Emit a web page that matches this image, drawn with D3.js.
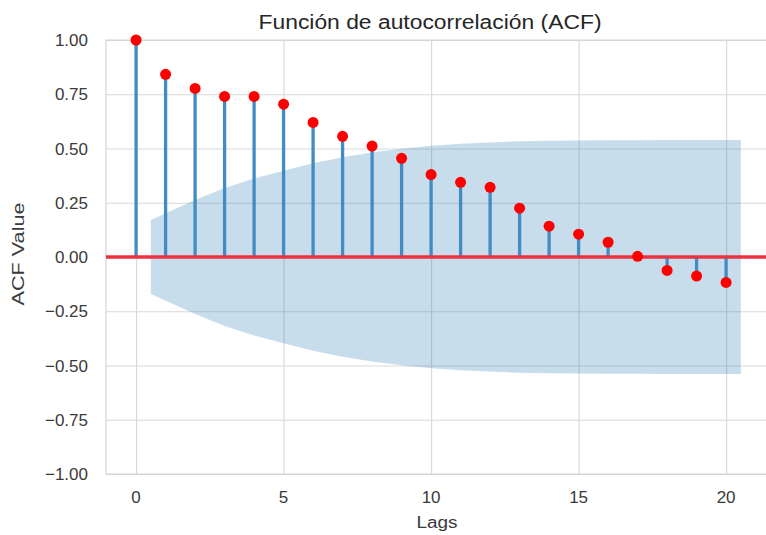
<!DOCTYPE html>
<html>
<head>
<meta charset="utf-8">
<script src="https://cdn.jsdelivr.net/npm/d3@7"></script>
<style>
  body { margin: 0; background: #fff; }
  svg { display: block; font-family: "Liberation Sans", Arial, sans-serif; }
</style>
</head>
<body>
<script>
// lags and acf values
var lags = [0, 1, 2, 3, 4, 5, 6, 7, 8, 9, 10, 11, 12, 13, 14, 15, 16, 17, 18, 19, 20];
var acfValues = [1.00, 0.842, 0.777, 0.740, 0.740, 0.704, 0.620, 0.556, 0.511, 0.455, 0.380,
  0.344, 0.321, 0.225, 0.142, 0.105, 0.068, 0.003, -0.062, -0.088, -0.117];
// confidence band half-width for lags 1..20
var confLags = [0.5, 2, 3, 4, 5, 6, 7, 8, 9, 10, 11, 12, 13, 14, 15, 16, 17, 18, 19, 20.5];
var confWidth = [0.170, 0.263, 0.318, 0.362, 0.398, 0.432, 0.460, 0.482, 0.499, 0.513,
  0.522, 0.528, 0.533, 0.536, 0.537, 0.538, 0.538, 0.539, 0.539, 0.539];
var xTicks = [0, 5, 10, 15, 20];
var yTicks = [-1.00, -0.75, -0.50, -0.25, 0.00, 0.25, 0.50, 0.75, 1.00];

var W = 766, H = 535;
var plotLeft = 106, plotTop = 40, plotBottom = 474;

var svg = d3.select('body').append('svg')
  .attr('width', W)
  .attr('height', H);

var x = d3.scaleLinear().domain([-1.02, 22.2]).range([plotLeft, plotLeft + 23.22 * 29.5]);
var y = d3.scaleLinear().domain([-1, 1]).range([plotBottom, plotTop]);

// grid
svg.append('g')
  .attr('transform', `translate(0, ${plotBottom})`)
  .call(d3.axisBottom(x).tickValues(xTicks).tickSize(-(plotBottom - plotTop)).tickFormat(''))
  .call(g => g.select('.domain').remove())
  .selectAll('line').attr('stroke', '#d9d9d9').attr('stroke-width', 1.2);

svg.append('g')
  .attr('transform', `translate(${plotLeft}, 0)`)
  .call(d3.axisLeft(y).tickValues(yTicks).tickSize(-(W - plotLeft + 20)).tickFormat(''))
  .call(g => g.select('.domain').remove())
  .selectAll('line').attr('stroke', '#d9d9d9').attr('stroke-width', 1.2);

// spines
svg.append('path')
  .attr('d', `M${W + 10},${plotTop}H${plotLeft}V${plotBottom}H${W + 10}`)
  .attr('fill', 'none')
  .attr('stroke', '#d4d4d4')
  .attr('stroke-width', 1.2);

// confidence band
var band = confLags.map(function(l, i) { return { l: l, w: confWidth[i] }; });
svg.append('path')
  .datum(band)
  .attr('fill', '#1f77b4')
  .attr('fill-opacity', 0.25)
  .attr('d', d3.area()
    .x(function(d) { return x(d.l); })
    .y0(function(d) { return y(-d.w); })
    .y1(function(d) { return y(d.w); }));

// stems
var data = lags.map(function(l, i) { return { l: l, v: acfValues[i] }; });
svg.append('g').selectAll('line')
  .data(data)
  .join('line')
  .attr('x1', function(d) { return x(d.l); })
  .attr('x2', function(d) { return x(d.l); })
  .attr('y1', y(0))
  .attr('y2', function(d) { return y(d.v); })
  .attr('stroke', '#418cc2')
  .attr('stroke-width', 3.3);

// zero line
svg.append('line')
  .attr('x1', plotLeft)
  .attr('x2', W + 10)
  .attr('y1', y(0))
  .attr('y2', y(0))
  .attr('stroke', '#ee3140')
  .attr('stroke-width', 3.5);

// markers
svg.append('g').selectAll('circle')
  .data(data)
  .join('circle')
  .attr('cx', function(d) { return x(d.l); })
  .attr('cy', function(d) { return y(d.v); })
  .attr('r', 5.5)
  .attr('fill', '#ff0000');

// tick labels
svg.append('g').selectAll('text')
  .data(yTicks)
  .join('text')
  .attr('x', 88)
  .attr('y', function(d) { return y(d); })
  .attr('dy', '0.36em')
  .attr('text-anchor', 'end')
  .attr('font-size', 17)
  .attr('fill', '#3a3a3a')
  .text(function(d) { return d3.format('.2f')(d).replace('-', '\u2212'); });

svg.append('g').selectAll('text')
  .data(xTicks)
  .join('text')
  .attr('x', function(d) { return x(d); })
  .attr('y', 503)
  .attr('text-anchor', 'middle')
  .attr('font-size', 17)
  .attr('fill', '#3a3a3a')
  .text(function(d) { return d; });

// title and axis labels
svg.append('text')
  .attr('x', 430)
  .attr('y', 29)
  .attr('text-anchor', 'middle')
  .attr('font-size', 20)
  .attr('textLength', 343)
  .attr('lengthAdjust', 'spacingAndGlyphs')
  .attr('fill', '#262626')
  .text('Función de autocorrelación (ACF)');

svg.append('text')
  .attr('x', 437)
  .attr('y', 528)
  .attr('text-anchor', 'middle')
  .attr('font-size', 16)
  .attr('textLength', 41)
  .attr('lengthAdjust', 'spacingAndGlyphs')
  .attr('fill', '#3a3a3a')
  .text('Lags');

svg.append('text')
  .attr('transform', 'translate(24, 254) rotate(-90)')
  .attr('text-anchor', 'middle')
  .attr('font-size', 16)
  .attr('textLength', 103)
  .attr('lengthAdjust', 'spacingAndGlyphs')
  .attr('fill', '#3a3a3a')
  .text('ACF Value');
</script>
</body>
</html>
